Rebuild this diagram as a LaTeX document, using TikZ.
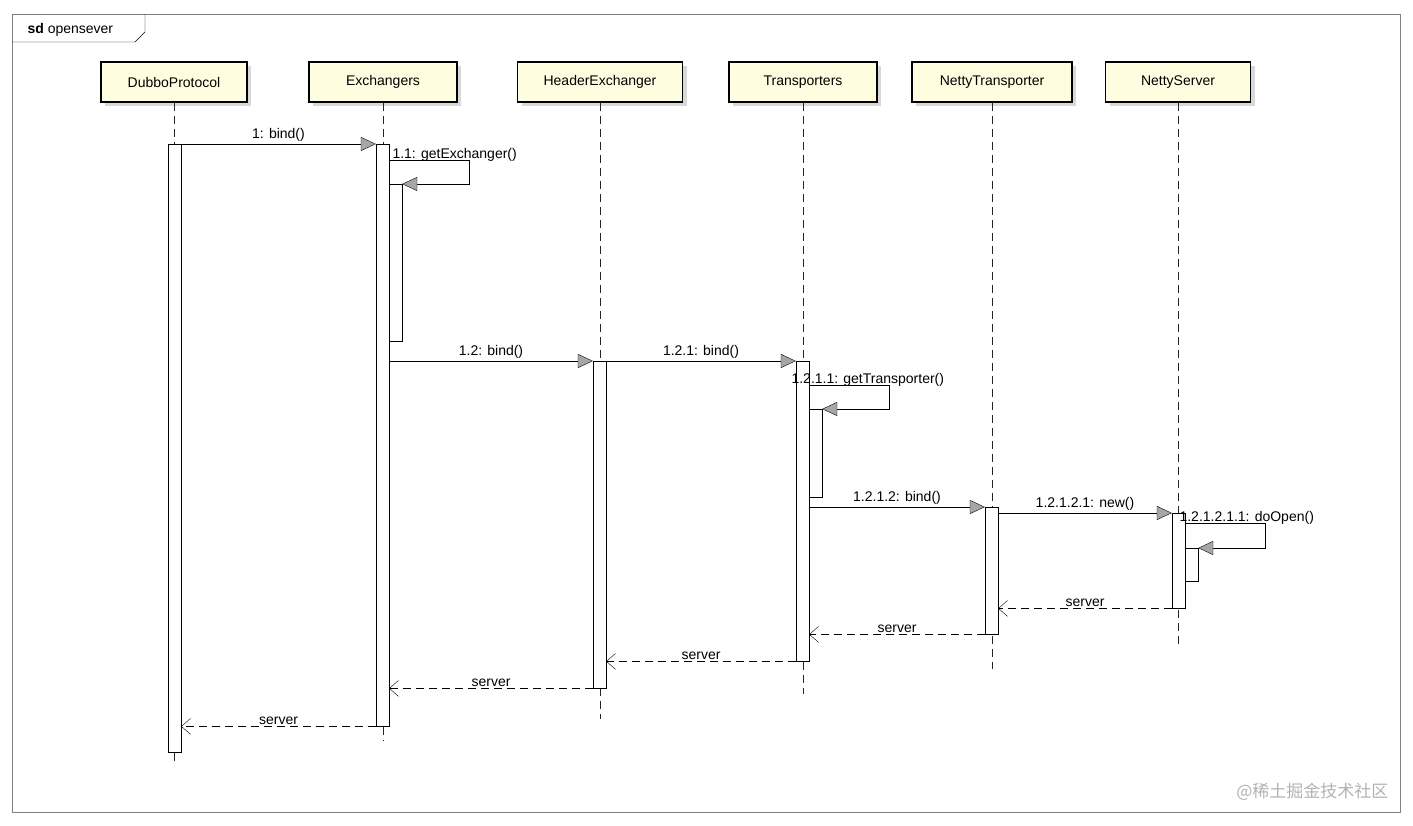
\documentclass[tikz,border=0pt]{standalone}
\usepackage{fontspec}
\setmainfont{Liberation Sans}
\newfontfamily\cjk{Noto Sans CJK SC}
\usetikzlibrary{arrows.meta,shadows}

\begin{document}
\begin{tikzpicture}[x=1pt,y=-1pt,font=\fontsize{14}{16}\selectfont,
  lifebox/.style={draw,fill=yellow!12,line width=1.2pt,minimum height=40,inner sep=0pt,
    drop shadow={shadow xshift=4pt,shadow yshift=-4pt,fill=gray!60}},
  life/.style={draw,dash pattern=on 8pt off 5pt,gray!30!black},
  act/.style={draw,fill=white,minimum width=13,inner sep=0pt,anchor=north},
  call/.style={draw,-{Triangle[length=15pt,width=14pt,fill=gray!70]}},
  ret/.style={draw,dash pattern=on 8pt off 5pt,-{Straight Barb[length=9pt,width=16pt]}},
  lbl/.style={above,inner sep=2pt}]
\useasboundingbox (0,0) rectangle (1413,826);
\draw[gray] (12,14) rectangle (1400,812);
\draw (12,42) -- (135,42) -- (145,32) -- (145,14);
\node[anchor=west] (title) at (24,30) {\textbf{sd} opensever};

% lifelines
\node[lifebox,minimum width=146] (dp) at (174,82) {DubboProtocol};
\node[lifebox,minimum width=148] (ex) at (383,82) {Exchangers};
\node[lifebox,minimum width=165] (hx) at (600,82) {HeaderExchanger};
\node[lifebox,minimum width=148] (tr) at (803,82) {Transporters};
\node[lifebox,minimum width=160] (nt) at (992,82) {NettyTransporter};
\node[lifebox,minimum width=145] (ns) at (1178,82) {NettyServer};
\path[life] (dp.south) -- ++(0,663);
\path[life] (ex.south) -- ++(0,638);
\path[life] (hx.south) -- ++(0,616);
\path[life] (tr.south) -- ++(0,591);
\path[life] (nt.south) -- ++(0,566);
\path[life] (ns.south) -- ++(0,543);

% activations
\node[act,minimum height=608] (dp1) at (174.5,144) {};
\node[act,minimum height=582] (ex1) at (382.5,144) {};
\node[act,minimum height=157] (ex2) at (395.5,184) {};
\node[act,minimum height=327] (hx1) at (599.5,361) {};
\node[act,minimum height=300] (tr1) at (802.5,361) {};
\node[act,minimum height=88] (tr2) at (815.5,409) {};
\node[act,minimum height=127] (nt1) at (991.5,507) {};
\node[act,minimum height=95] (ns1) at (1178.5,513) {};
\node[act,minimum height=33] (ns2) at (1191.5,548) {};

% calls
\path[call] (dp1.north east) -- node[lbl] {1: bind()} (ex1.north west);
\path[call] (ex1.east |- 0,160) -- (469,160) -- (469,184) -- (ex2.north east);
\node[anchor=west] (l11) at (389,155) {1.1: getExchanger()};
\path[call] (ex1.east |- 0,361) -- node[lbl] {1.2: bind()} (hx1.north west);
\path[call] (hx1.north east) -- node[lbl] {1.2.1: bind()} (tr1.north west);
\path[call] (tr1.east |- 0,385) -- (889,385) -- (889,409) -- (tr2.north east);
\node[anchor=west] (l1211) at (788,380) {1.2.1.1: getTransporter()};
\path[call] (tr1.east |- nt1.north) -- node[lbl] {1.2.1.2: bind()} (nt1.north west);
\path[call] (nt1.east |- ns1.north) -- node[lbl] {1.2.1.2.1: new()} (ns1.north west);
\path[call] (ns1.east |- 0,523) -- (1265,523) -- (1265,548) -- (ns2.north east);
\node[anchor=west] (l12121) at (1176,518) {1.2.1.2.1.1: doOpen()};

% returns
\path[ret] (ns1.south west) -- node[lbl] {server} (nt1.east |- ns1.south);
\path[ret] (nt1.south west) -- node[lbl] {server} (tr1.east |- nt1.south);
\path[ret] (tr1.south west) -- node[lbl] {server} (hx1.east |- tr1.south);
\path[ret] (hx1.south west) -- node[lbl] {server} (ex1.east |- hx1.south);
\path[ret] (ex1.south west) -- node[lbl] {server} (dp1.east |- ex1.south);

\node[anchor=east,text=gray!60,font=\cjk\fontsize{17}{19}\selectfont] (wm) at (1392,792) {@稀土掘金技术社区};
\end{tikzpicture}
\end{document}
